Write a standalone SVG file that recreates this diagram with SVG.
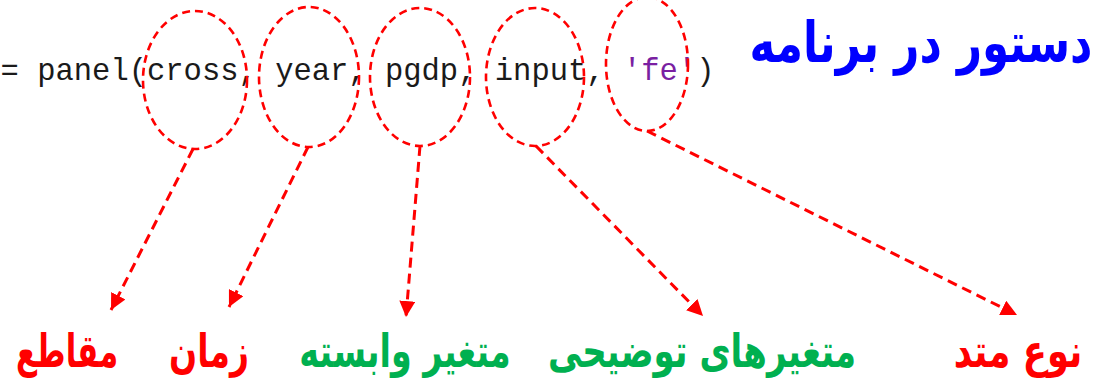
<svg xmlns="http://www.w3.org/2000/svg" width="1108" height="380" viewBox="0 0 1108 380">
<style>
.code{font-family:"Liberation Mono","Courier New",monospace;font-size:30.5px;fill:#1a1a1a}
.str{fill:#7a1fa2}
.ring{fill:none;stroke:#ff0000;stroke-width:2.6;stroke-dasharray:8 5}
.conn{fill:none;stroke:#ff0000;stroke-width:3;stroke-dasharray:10 6}
.fa{font-family:"DejaVu Sans",sans-serif;font-weight:bold;text-anchor:middle}
.lbl{font-size:34px}
.red{fill:#ff0000}
.green{fill:#00b050}
.title{font-size:40px;fill:#0000ff}
</style>
<defs>
<marker id="ah" markerUnits="userSpaceOnUse" markerWidth="18" markerHeight="16" refX="16" refY="8" orient="auto">
<path d="M0,0 L16,8 L0,16 Z" fill="#ff0000"/>
</marker>
</defs>
<rect width="1108" height="380" fill="#ffffff"/>
<g id="code-line">
<text class="code" x="0.6" y="80">= panel(cross, year, pgdp, input, <tspan class="str">'fe'</tspan>)</text>
</g>
<g id="title" transform="translate(921,62) scale(1.09,1.4)">
<text class="fa title" x="0" y="0">دستور در برنامه</text>
</g>
<g id="ring-cross"><ellipse class="ring" cx="195" cy="80" rx="52" ry="69"/></g>
<g id="ring-year"><ellipse class="ring" cx="309" cy="77" rx="50" ry="70"/></g>
<g id="ring-pgdp"><ellipse class="ring" cx="420" cy="77" rx="50" ry="69"/></g>
<g id="ring-input"><ellipse class="ring" cx="535" cy="77" rx="49" ry="69"/></g>
<g id="ring-fe"><ellipse class="ring" cx="647" cy="64" rx="41" ry="67"/></g>
<g id="connectors">
<line class="conn" x1="193" y1="149" x2="111" y2="310" marker-end="url(#ah)"/>
<line class="conn" x1="308" y1="147" x2="229" y2="307" marker-end="url(#ah)"/>
<line class="conn" x1="420" y1="146" x2="406" y2="317" marker-end="url(#ah)"/>
<line class="conn" x1="536" y1="146" x2="703" y2="316" marker-end="url(#ah)"/>
<line class="conn" x1="647" y1="131" x2="1017" y2="315" marker-end="url(#ah)"/>
</g>
<g id="label-cross" transform="translate(67,367) scale(0.9,1.35)"><text class="fa lbl red" x="0" y="0">مقاطع</text></g>
<g id="label-year" transform="translate(209,367) scale(0.97,1.35)"><text class="fa lbl red" x="0" y="0">زمان</text></g>
<g id="label-pgdp" transform="translate(405,367) scale(0.98,1.35)"><text class="fa lbl green" x="0" y="0">متغیر وابسته</text></g>
<g id="label-input" transform="translate(702,367) scale(1,1.35)"><text class="fa lbl green" x="0" y="0">متغیرهای توضیحی</text></g>
<g id="label-fe" transform="translate(1018,367) scale(1.04,1.35)"><text class="fa lbl red" x="0" y="0">نوع متد</text></g>
</svg>
